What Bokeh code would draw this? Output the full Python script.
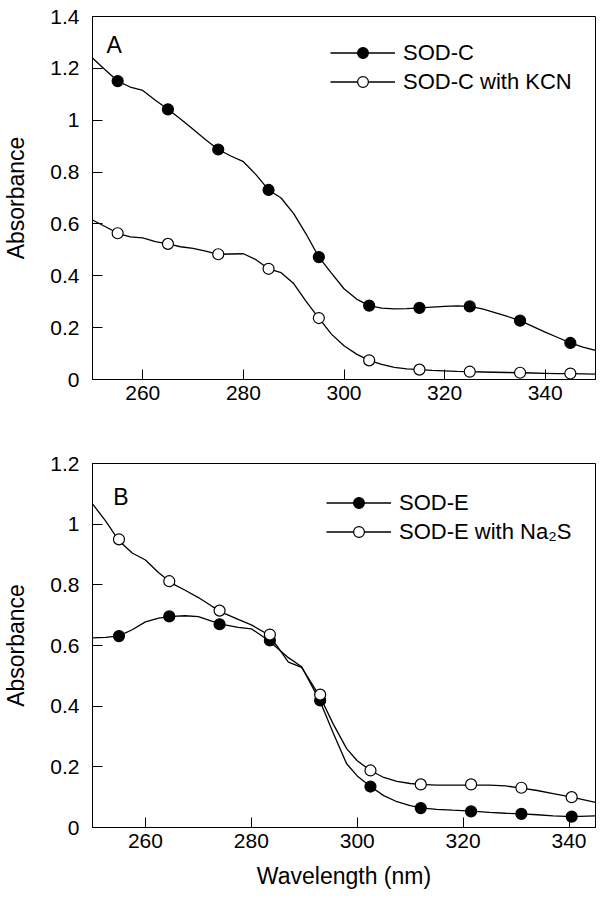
from bokeh.plotting import figure
from bokeh.models import Range1d, FixedTicker, CustomJSTickFormatter, Legend, LegendItem, Label
from bokeh.layouts import column
from bokeh.embed import file_html
from bokeh.resources import INLINE

FONT = "Liberation Sans"

# ---------------- Panel A data ----------------
a_mark_x = [255, 265, 275, 285, 295, 305, 315, 325, 335, 345]
a_sodc = [1.151, 1.042, 0.887, 0.731, 0.472, 0.285, 0.276, 0.282, 0.227, 0.141]
a_sodc_kcn = [0.564, 0.523, 0.483, 0.427, 0.237, 0.074, 0.038, 0.030, 0.026, 0.023]

a_curve_x = [250, 252.5, 255, 257.5, 260, 262.5, 265, 267.5, 270, 272.5, 275, 277.5, 280,
             282.5, 285, 287.5, 290, 292.5, 295, 297.5, 300, 302.5, 305, 307.5, 310, 312.5,
             315, 317.5, 320, 322.5, 325, 327.5, 330, 332.5, 335, 337.5, 340, 342.5, 345,
             347.5, 350]
a_curve_sodc = [1.24, 1.195, 1.151, 1.128, 1.115, 1.077, 1.042, 1.005, 0.965, 0.925, 0.887,
                0.862, 0.84, 0.79, 0.731, 0.70, 0.64, 0.56, 0.472, 0.41, 0.35, 0.31, 0.285,
                0.275, 0.272, 0.273, 0.276, 0.279, 0.282, 0.284, 0.282, 0.272, 0.258, 0.243,
                0.227, 0.205, 0.183, 0.162, 0.141, 0.125, 0.112]
a_curve_kcn = [0.615, 0.59, 0.564, 0.55, 0.546, 0.532, 0.523, 0.512, 0.506, 0.495, 0.483,
               0.484, 0.485, 0.462, 0.427, 0.412, 0.37, 0.30, 0.237, 0.175, 0.13, 0.098,
               0.074, 0.058, 0.047, 0.041, 0.038, 0.035, 0.033, 0.031, 0.030, 0.029, 0.028,
               0.027, 0.026, 0.025, 0.024, 0.023, 0.023, 0.022, 0.021]

# ---------------- Panel B data ----------------
b_mark_x = [255, 264.5, 274, 283.5, 293, 302.5, 312, 321.5, 331, 340.5]
b_sode = [0.631, 0.696, 0.670, 0.617, 0.419, 0.135, 0.064, 0.053, 0.045, 0.036]
b_sode_na2s = [0.950, 0.812, 0.715, 0.636, 0.438, 0.188, 0.142, 0.142, 0.131, 0.100]

b_curve_x = [250, 252.5, 255, 257.5, 260, 262.5, 265, 267.5, 270, 272.5, 275, 277.5, 280,
             283, 285, 287, 289.5, 293, 295.5, 298, 300, 302.5, 305, 307.5, 310, 312, 315,
             318, 321.5, 325, 328, 331, 334, 337, 340.5, 345]
b_curve_sode = [0.625, 0.627, 0.632, 0.652, 0.678, 0.69, 0.696, 0.698, 0.695, 0.68, 0.668,
                0.66, 0.655, 0.62, 0.59, 0.56, 0.53, 0.415, 0.31, 0.21, 0.17, 0.135, 0.105,
                0.085, 0.072, 0.065, 0.06, 0.057, 0.054, 0.05, 0.047, 0.045, 0.042, 0.038,
                0.036, 0.038]
b_curve_na2s = [1.067, 1.01, 0.945, 0.905, 0.882, 0.84, 0.805, 0.782, 0.758, 0.73, 0.705,
                0.686, 0.668, 0.638, 0.595, 0.545, 0.528, 0.43, 0.34, 0.26, 0.22, 0.188,
                0.165, 0.152, 0.145, 0.142, 0.14, 0.14, 0.14, 0.14, 0.137, 0.13, 0.122,
                0.112, 0.10, 0.083]

x_ticks = [260, 280, 300, 320, 340]
a_y_ticks = [0, 0.2, 0.4, 0.6, 0.8, 1, 1.2, 1.4]
b_y_ticks = [0, 0.2, 0.4, 0.6, 0.8, 1, 1.2]


def make_panel(width, height, borders, xr, yr, yticks, xlabel):
    p = figure(width=width, height=height, x_range=Range1d(*xr), y_range=Range1d(*yr),
               output_backend="svg", toolbar_location=None,
               min_border_left=borders[0], min_border_right=borders[1],
               min_border_top=borders[2], min_border_bottom=borders[3])
    p.grid.visible = False
    p.outline_line_color = "black"
    p.outline_line_width = 1
    p.background_fill_color = "white"
    p.border_fill_color = "white"
    p.xaxis.ticker = FixedTicker(ticks=x_ticks)
    p.yaxis.ticker = FixedTicker(ticks=yticks)
    p.yaxis.formatter = CustomJSTickFormatter(code="return Number(tick.toFixed(1)).toString()")
    for ax in (p.xaxis, p.yaxis):
        ax.major_tick_in = 10
        ax.major_tick_out = 0
        ax.minor_tick_in = 0
        ax.minor_tick_out = 0
        ax.axis_line_color = "black"
        ax.major_tick_line_color = "black"
        ax.major_label_text_font = FONT
        ax.major_label_text_font_size = "21px"
        ax.major_label_text_color = "black"
        ax.axis_label_text_font = FONT
        ax.axis_label_text_font_size = "23px"
        ax.axis_label_text_font_style = "normal"
        ax.axis_label_text_color = "black"
    p.yaxis.major_label_standoff = 13
    p.xaxis.major_label_standoff = 6
    p.yaxis.axis_label = "Absorbance"
    p.yaxis.axis_label_standoff = 18
    if xlabel:
        p.xaxis.axis_label = xlabel
        p.xaxis.axis_label_standoff = 12
    return p


def add_series(p, cx, cy, mx, my, filled):
    ln = p.line(cx, cy, line_color="black", line_width=1.3)
    sc = p.scatter(mx, my, size=11, marker="circle", line_color="black", line_width=1.2,
                   fill_color="black" if filled else "white")
    return [ln, sc]


def add_legend(p, items, loc):
    lg = Legend(items=items, location=loc, glyph_width=65, glyph_height=27, label_height=27,
                spacing=2, padding=0, margin=0, label_standoff=8,
                label_text_font=FONT, label_text_font_size="22px", label_text_color="black",
                border_line_color=None, background_fill_alpha=0)
    p.add_layout(lg)


# Panel A
pa = make_panel(597, 440, (86, 2, 16, 61), (250, 350), (0, 1.4), a_y_ticks, None)
ra1 = add_series(pa, a_curve_x, a_curve_sodc, a_mark_x, a_sodc, True)
ra2 = add_series(pa, a_curve_x, a_curve_kcn, a_mark_x, a_sodc_kcn, False)
add_legend(pa, [LegendItem(label="SOD-C", renderers=ra1),
                LegendItem(label="SOD-C with KCN", renderers=ra2)], (238, 284))
pa.add_layout(Label(x=252.8, y=1.29, text="A", text_font=FONT, text_font_size="23px",
                    text_color="black", text_baseline="alphabetic"))

# Panel B
pb = make_panel(597, 455, (87, 2, 23, 68), (250, 345), (0, 1.2), b_y_ticks, "Wavelength (nm)")
rb1 = add_series(pb, b_curve_x, b_curve_sode, b_mark_x, b_sode, True)
rb2 = add_series(pb, b_curve_x, b_curve_na2s, b_mark_x, b_sode_na2s, False)
add_legend(pb, [LegendItem(label="SOD-E", renderers=rb1),
                LegendItem(label="SOD-E with Na\u2082S", renderers=rb2)], (234, 282))
pb.add_layout(Label(x=253.9, y=1.091, text="B", text_font=FONT, text_font_size="23px",
                    text_color="black", text_baseline="alphabetic"))

layout = column(pa, pb, spacing=0)
open("out.html", "w").write(file_html(layout, INLINE))
